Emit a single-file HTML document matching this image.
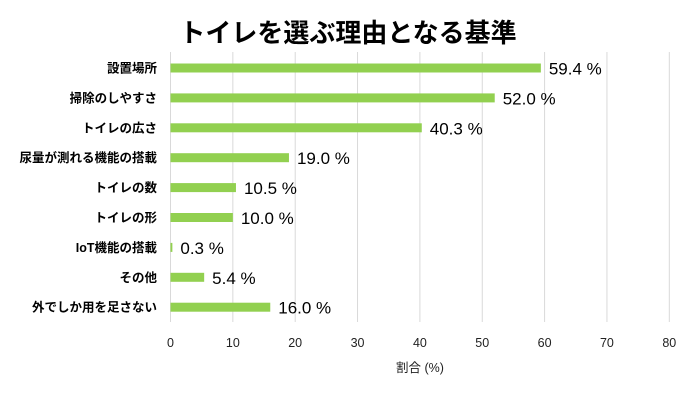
<!DOCTYPE html>
<html><head><meta charset="utf-8"><style>
body{margin:0;background:#fff;}
svg{display:block;font-family:"Liberation Sans","Noto Sans CJK JP",sans-serif;}
</style></head><body>
<svg id="c" width="696" height="410">
<rect width="696" height="410" fill="#fff"/>
<text x="348" y="42" text-anchor="middle" font-size="26" font-weight="bold" fill="#000">トイレを選ぶ理由となる基準</text>
<g id="grid"></g><g id="bars"></g><g id="labels"></g>
<text x="420" y="372" text-anchor="middle" font-size="12.5" fill="#222">割合 (%)</text>
</svg>
<script>
const categories=["設置場所","掃除のしやすさ","トイレの広さ","尿量が測れる機能の搭載","トイレの数","トイレの形","IoT機能の搭載","その他","外でしか用を足さない"];
const values=[59.4,52.0,40.3,19.0,10.5,10.0,0.3,5.4,16.0];
const ticks=[0,10,20,30,40,50,60,70,80];
const NS="http://www.w3.org/2000/svg";
const x=v=>170.5+v*6.235;
const y=i=>68+i*29.9;
function mk(t,a,p){const e=document.createElementNS(NS,t);for(const k in a)e.setAttribute(k,a[k]);p.appendChild(e);return e;}
const g=document.getElementById('grid'),b=document.getElementById('bars'),l=document.getElementById('labels');
ticks.forEach(t=>{
 const ln=mk('line',{x1:x(t),x2:x(t),y1:52,y2:322,stroke:'#d9d9d9','stroke-width':1},g);
 
 
 const tx=mk('text',{x:x(t),y:347,'text-anchor':'middle','font-size':12.5,fill:'#222'},g);
 tx.textContent=t;
 
 
});
categories.forEach((c,i)=>{
 const r=mk('rect',{x:x(0),y:y(i)-4.5,width:Math.max(x(values[i])-x(0),1),height:9,fill:'#92d050'},b);
 
 
 const ct=mk('text',{x:157,y:y(i)+4.5,'text-anchor':'end','font-size':12.5,'font-weight':'bold',fill:'#000'},l);
 ct.textContent=c;
 
 
 const vt=mk('text',{x:x(values[i])+8,y:y(i)+6.5,'font-size':17,fill:'#000'},l);
 vt.textContent=values[i].toFixed(1)+' %';
 
 
});
</script>
</body></html>
